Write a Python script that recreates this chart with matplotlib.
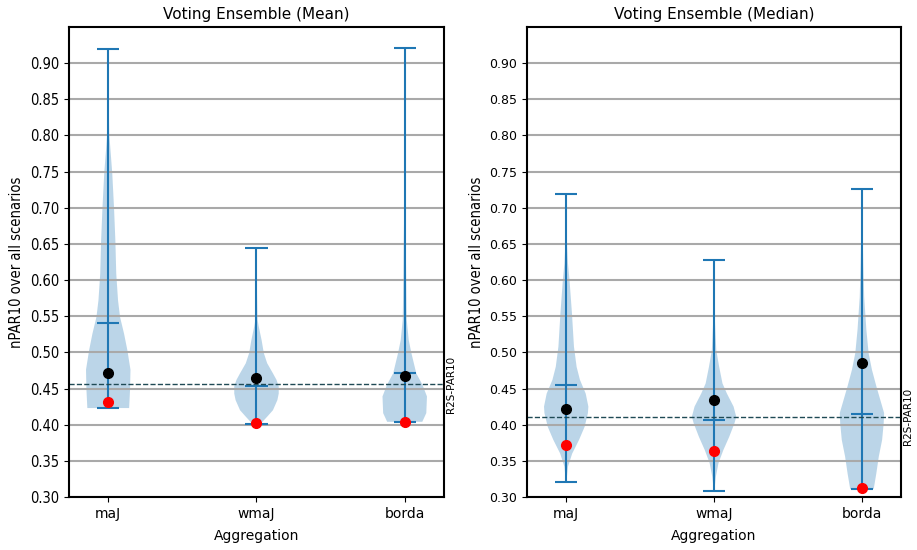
import matplotlib
matplotlib.use("Agg")
import matplotlib.pyplot as plt
import matplotlib.transforms as mtransforms
import numpy as np

labels = ["maJ", "wmaJ", "borda"]
positions = [1, 2, 3]

# --- Voting Ensemble (Mean) ---
mean_min = [0.423, 0.401, 0.404]
mean_max = [0.920, 0.645, 0.921]
mean_median = [0.541, 0.454, 0.471]
mean_avg = [0.472, 0.465, 0.468]      # black dots
mean_best = [0.431, 0.403, 0.404]     # red dots
mean_ref = 0.456                      # R2S-PAR10

# violin outlines (value, relative half-width)
mean_coords = [
    [0.423, 0.448, 0.476, 0.503, 0.526, 0.549, 0.572, 0.609, 0.655, 0.700, 0.748, 0.780, 0.803, 0.840, 0.880, 0.920],
    [0.401, 0.411, 0.420, 0.434, 0.443, 0.453, 0.462, 0.471, 0.485, 0.499, 0.517, 0.536, 0.545, 0.580, 0.620, 0.645],
    [0.404, 0.416, 0.439, 0.455, 0.471, 0.499, 0.517, 0.545, 0.563, 0.655, 0.700, 0.780, 0.860, 0.921],
]
mean_dens = [
    [0.94, 0.98, 1.00, 0.86, 0.71, 0.53, 0.44, 0.36, 0.32, 0.26, 0.18, 0.10, 0.045, 0.025, 0.015, 0.0],
    [0.18, 0.48, 0.74, 0.94, 1.00, 1.00, 0.90, 0.74, 0.48, 0.33, 0.23, 0.10, 0.05, 0.025, 0.012, 0.0],
    [0.79, 0.97, 1.00, 0.80, 0.52, 0.30, 0.18, 0.09, 0.08, 0.045, 0.02, 0.012, 0.008, 0.0],
]

# --- Voting Ensemble (Median) ---
med_min = [0.321, 0.308, 0.311]
med_max = [0.719, 0.628, 0.726]
med_median = [0.455, 0.407, 0.415]
med_avg = [0.421, 0.434, 0.485]
med_best = [0.372, 0.363, 0.312]
med_ref = 0.411

med_coords = [
    [0.321, 0.342, 0.360, 0.379, 0.397, 0.416, 0.425, 0.443, 0.462, 0.480, 0.508, 0.554, 0.600, 0.623, 0.660, 0.719],
    [0.308, 0.328, 0.347, 0.365, 0.383, 0.402, 0.411, 0.425, 0.443, 0.457, 0.480, 0.503, 0.550, 0.628],
    [0.311, 0.333, 0.356, 0.379, 0.402, 0.416, 0.434, 0.453, 0.476, 0.499, 0.531, 0.577, 0.623, 0.680, 0.726],
]
med_dens = [
    [0.01, 0.08, 0.27, 0.58, 0.83, 0.98, 1.00, 0.88, 0.62, 0.47, 0.35, 0.26, 0.15, 0.08, 0.02, 0.0],
    [0.01, 0.08, 0.20, 0.42, 0.68, 0.92, 1.00, 0.88, 0.58, 0.38, 0.23, 0.10, 0.03, 0.0],
    [0.53, 0.65, 0.76, 0.91, 0.98, 1.00, 0.83, 0.65, 0.45, 0.30, 0.20, 0.10, 0.06, 0.02, 0.0],
]


def draw_panel(ax, title, coords, dens, vmin, vmax, vmed, vavg, vbest, ref, tick_size, cond):
    stats = []
    for c, d, lo, hi, md, av in zip(coords, dens, vmin, vmax, vmed, vavg):
        stats.append({"coords": np.array(c), "vals": np.array(d), "mean": av,
                      "median": md, "min": lo, "max": hi})
    ax.violin(stats, positions=positions, widths=0.3, showmeans=False,
              showextrema=True, showmedians=True)
    ax.plot(positions, vavg, "o", color="black", markersize=7, zorder=4)
    ax.plot(positions, vbest, "o", color="red", markersize=7, zorder=4)

    ax.axhline(ref, color="#1f4a55", linestyle="--", linewidth=1)
    trans = mtransforms.blended_transform_factory(ax.transAxes, ax.transData)
    ax.text(1.006, ref, "R2S-PAR10", transform=trans, rotation=90,
            ha="left", va="center", fontsize=7.5)

    ax.yaxis.grid(True, color="darkgray", linewidth=1.5)
    ax.set_ylim(0.30, 0.95)
    ax.set_yticks(np.arange(0.30, 0.901, 0.05))
    ax.set_yticklabels(["%.2f" % v for v in np.arange(0.30, 0.901, 0.05)],
                       fontsize=tick_size, fontstretch=cond)
    ax.set_xticks(positions)
    ax.set_xticklabels(labels, fontsize=10)
    ax.set_xlabel("Aggregation", fontsize=10, labelpad=6)
    ax.set_ylabel("nPAR10 over all scenarios", fontsize=10.5, fontstretch="condensed")
    ax.set_title(title, fontsize=11)
    for s in ax.spines.values():
        s.set_linewidth(1.5)


fig = plt.figure(figsize=(9.17, 5.5), dpi=100)
ax1 = fig.add_axes([0.0752, 0.0964, 0.409, 0.8545])
ax2 = fig.add_axes([0.5747, 0.0964, 0.408, 0.8545])

draw_panel(ax1, "Voting Ensemble (Mean)", mean_coords, mean_dens, mean_min, mean_max,
           mean_median, mean_avg, mean_best, mean_ref, 10.5, "condensed")
draw_panel(ax2, "Voting Ensemble (Median)", med_coords, med_dens, med_min, med_max,
           med_median, med_avg, med_best, med_ref, 9, "normal")

fig.savefig("out.png", dpi=100)
